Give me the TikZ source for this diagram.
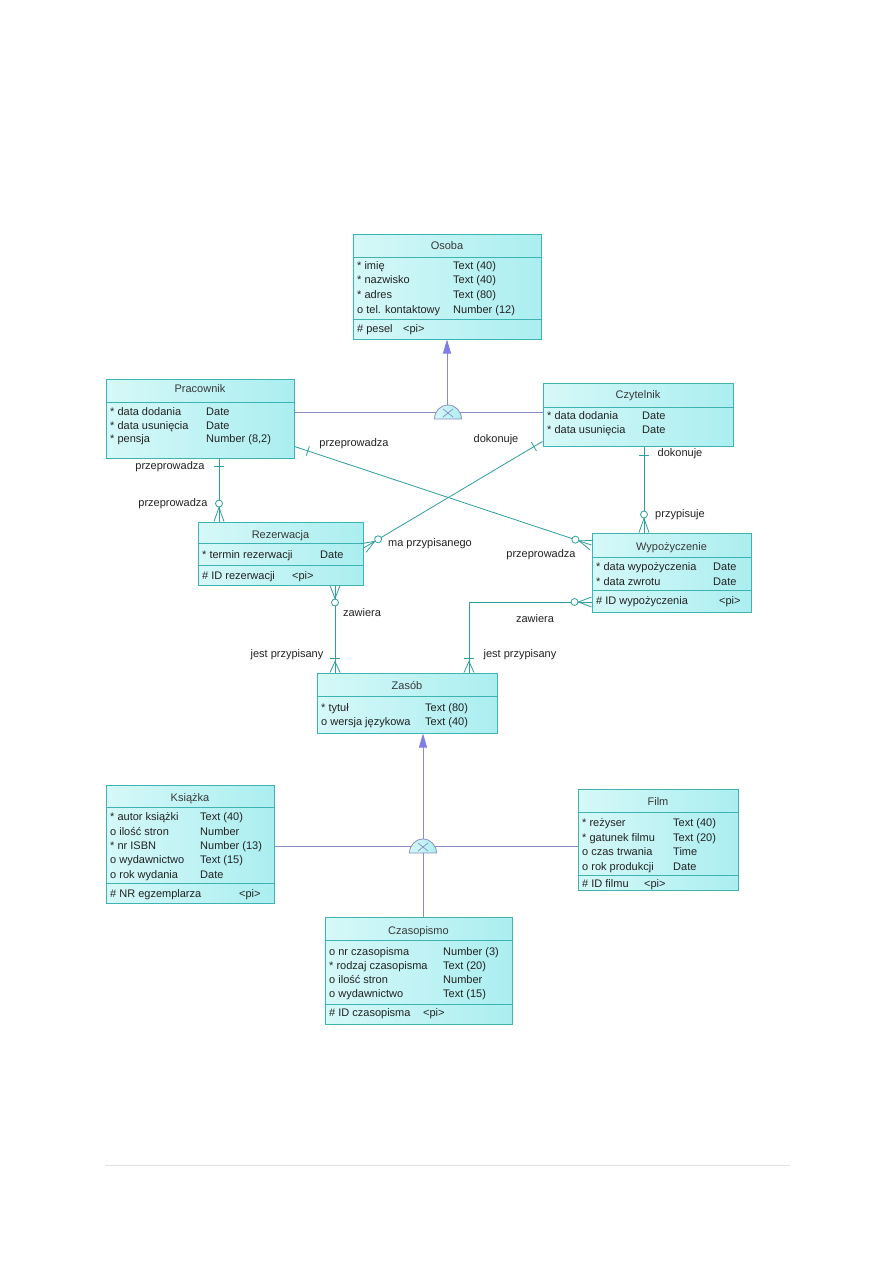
\documentclass[tikz,border=0pt]{standalone}
\usepackage{fontspec}
\setmainfont{Liberation Sans}
\usetikzlibrary{calc,arrows.meta}
\definecolor{bordc}{HTML}{3DB3B3}
\definecolor{fillL}{HTML}{D6F8F8}
\definecolor{fillR}{HTML}{ABEEF0}
\definecolor{relc}{HTML}{2E9E9E}
\definecolor{inhc}{HTML}{8C8CC4}
\definecolor{inhf}{HTML}{7E7EE6}
\definecolor{txtc}{HTML}{222222}
\newcommand\erfont{\fontsize{11}{13}\selectfont}
\newcounter{tn}
\newcommand\tx[3]{\stepcounter{tn}\node[attr] (t\arabic{tn}) at (#1,#2) {#3};}
\newcommand\ttl[3]{\stepcounter{tn}\node[ttlst] (t\arabic{tn}) at (#1,#2) {#3};}
\newcommand\ERbar[3]{\path ($(#1)!#3!(#2)$) coordinate (tmpq);
  \draw[rel] ($(tmpq)!5pt!90:(#2)$) -- ($(tmpq)!5pt!-90:(#2)$);}
\newcommand\ERcrow[3]{\path ($(#1)!#3!(#2)$) coordinate (tmpp);
  \draw[rel] ($(#1)!5pt!90:(#2)$) -- (tmpp) -- ($(#1)!5pt!-90:(#2)$);}
\newcommand\ERcirc[3]{\path ($(#1)!#3!(#2)$) coordinate (tmpc);
  \draw[rel, fill=white] (tmpc) circle[radius=3.5pt];}
\newcommand\ERhl[2]{\draw[bordc, line width=1pt] (#1.west |- 0,#2) -- (#1.east |- 0,#2);}
\begin{document}
\begin{tikzpicture}[x=1pt,y=-1pt,
  entity/.style={draw=bordc, line width=1pt, left color=fillL, right color=fillR, inner sep=0pt},
  attr/.style={anchor=base west, inner sep=0pt, font=\erfont, text=txtc},
  ttlst/.style={anchor=base, inner sep=0pt, font=\erfont, text=txtc!90},
  lab/.style={anchor=base, inner sep=0pt, font=\erfont, text=txtc},
  rel/.style={draw=relc, line width=0.8pt},
  inh/.style={draw=inhc, line width=0.9pt},
  inharrow/.style={inh, arrows={-{Triangle[width=8pt,length=14pt,color=inhf,fill=inhf]}}},
  dome/.style={draw=inhc, line width=0.8pt, left color=fillL, right color=fillR}]
\useasboundingbox (0,0) rectangle (893,1263);
\fill[white] (0,0) rectangle (893,1263);

% ---------- entities ----------
\node[entity, minimum width=188pt, minimum height=105pt] (osoba) at (447,286.5) {};
\ERhl{osoba}{257} \ERhl{osoba}{319}
\ttl{447}{249}{Osoba}
\tx{357}{269}{* imię}\tx{453}{269}{Text (40)}
\tx{357}{283}{* nazwisko}\tx{453}{283}{Text (40)}
\tx{357}{298}{* adres}\tx{453}{298}{Text (80)}
\tx{357}{313}{o tel. kontaktowy}\tx{453}{313}{Number (12)}
\tx{357}{332}{\# pesel}\tx{403}{332}{<pi>}

\node[entity, minimum width=188pt, minimum height=79pt] (prac) at (200,418.5) {};
\ERhl{prac}{402}
\ttl{200}{392}{Pracownik}
\tx{110}{415}{* data dodania}\tx{206}{415}{Date}
\tx{110}{429}{* data usunięcia}\tx{206}{429}{Date}
\tx{110}{442}{* pensja}\tx{206}{442}{Number (8,2)}

\node[entity, minimum width=190pt, minimum height=63pt] (czyt) at (638,414.5) {};
\ERhl{czyt}{407}
\ttl{638}{398}{Czytelnik}
\tx{547}{419}{* data dodania}\tx{642}{419}{Date}
\tx{547}{433}{* data usunięcia}\tx{642}{433}{Date}

\node[entity, minimum width=165pt, minimum height=63pt] (rez) at (280.5,553.5) {};
\ERhl{rez}{543} \ERhl{rez}{565}
\ttl{280.5}{538}{Rezerwacja}
\tx{202}{558}{* termin rezerwacji}\tx{320}{558}{Date}
\tx{202}{579}{\# ID rezerwacji}\tx{292}{579}{<pi>}

\node[entity, minimum width=159pt, minimum height=79pt] (wyp) at (671.5,572.5) {};
\ERhl{wyp}{557} \ERhl{wyp}{590}
\ttl{671.5}{550}{Wypożyczenie}
\tx{596}{570}{* data wypożyczenia}\tx{713}{570}{Date}
\tx{596}{585}{* data zwrotu}\tx{713}{585}{Date}
\tx{596}{604}{\# ID wypożyczenia}\tx{719}{604}{<pi>}

\node[entity, minimum width=180pt, minimum height=60pt] (zasob) at (407,703) {};
\ERhl{zasob}{696}
\ttl{407}{689}{Zasób}
\tx{321}{711}{* tytuł}\tx{425}{711}{Text (80)}
\tx{321}{725}{o wersja językowa}\tx{425}{725}{Text (40)}

\node[entity, minimum width=168pt, minimum height=118pt] (ksiazka) at (190,844) {};
\ERhl{ksiazka}{807} \ERhl{ksiazka}{883}
\ttl{190}{801}{Książka}
\tx{110}{820}{* autor książki}\tx{200}{820}{Text (40)}
\tx{110}{835}{o ilość stron}\tx{200}{835}{Number}
\tx{110}{849}{* nr ISBN}\tx{200}{849}{Number (13)}
\tx{110}{863}{o wydawnictwo}\tx{200}{863}{Text (15)}
\tx{110}{878}{o rok wydania}\tx{200}{878}{Date}
\tx{110}{897}{\# NR egzemplarza}\tx{239}{897}{<pi>}

\node[entity, minimum width=160pt, minimum height=101pt] (film) at (658,839.5) {};
\ERhl{film}{812} \ERhl{film}{875}
\ttl{658}{805}{Film}
\tx{582}{826}{* reżyser}\tx{673}{826}{Text (40)}
\tx{582}{841}{* gatunek filmu}\tx{673}{841}{Text (20)}
\tx{582}{855}{o czas trwania}\tx{673}{855}{Time}
\tx{582}{870}{o rok produkcji}\tx{673}{870}{Date}
\tx{582}{887}{\# ID filmu}\tx{644}{887}{<pi>}

\node[entity, minimum width=187pt, minimum height=107pt] (czas) at (418.5,970.5) {};
\ERhl{czas}{940} \ERhl{czas}{1004}
\ttl{418.5}{934}{Czasopismo}
\tx{329}{955}{o nr czasopisma}\tx{443}{955}{Number (3)}
\tx{329}{969}{* rodzaj czasopisma}\tx{443}{969}{Text (20)}
\tx{329}{983}{o ilość stron}\tx{443}{983}{Number}
\tx{329}{997}{o wydawnictwo}\tx{443}{997}{Text (15)}
\tx{329}{1016}{\# ID czasopisma}\tx{423}{1016}{<pi>}

% ---------- inheritance ----------
\coordinate (d1) at (447,412);
\draw[inh] (prac.east |- d1) -- (czyt.west |- d1);
\draw[inharrow] ([yshift=6pt]d1) -- (osoba.south -| d1);
\draw[dome] (434.5,419) arc[start angle=180, end angle=360, x radius=13.5, y radius=14] -- cycle;
\draw[inhc, line width=0.7pt] (443,409) -- (453,417) (443,417) -- (453,409);

\coordinate (d2) at (423,846);
\draw[inh] (ksiazka.east |- d2) -- (film.west |- d2);
\draw[inh] (czas.north -| d2) -- (d2);
\draw[inharrow] (d2) -- (zasob.south -| d2);
\draw[dome] (409.5,853) arc[start angle=180, end angle=360, x radius=13.5, y radius=14] -- cycle;
\draw[inhc, line width=0.7pt] (418,843) -- (428,851) (418,851) -- (428,843);

% ---------- relationships ----------
\coordinate (cA) at (219,0);
\coordinate (cD) at (644,0);
\coordinate (cE) at (335,0);
\coordinate (cF) at (469,602);

% Pracownik - Rezerwacja
\coordinate (A1) at (prac.south -| cA);
\coordinate (B1) at (rez.north -| cA);
\draw[rel] (A1) -- (B1);
\ERbar{A1}{B1}{8pt}
\ERcrow{B1}{A1}{14pt}
\ERcirc{B1}{A1}{18pt}
\node[lab] (l1) at (170,469) {przeprowadza};
\node[lab] (l2) at (173,506) {przeprowadza};

% Pracownik - Wypozyczenie
\coordinate (A2) at ([yshift=12pt]prac.south east);
\coordinate (B2) at ([yshift=27.5pt]wyp.west);
\draw[rel] (A2) -- (B2);
\ERbar{A2}{B2}{14pt}
\ERcrow{B2}{A2}{13pt}
\ERcirc{B2}{A2}{17pt}
\node[lab] (l3) at (354,446) {przeprowadza};
\node[lab] (l4) at (541,557) {przeprowadza};

% Czytelnik - Rezerwacja
\coordinate (A3) at ([yshift=5pt]czyt.south west);
\coordinate (B3) at ([yshift=5.5pt]rez.east);
\draw[rel] (A3) -- (B3);
\ERbar{A3}{B3}{10pt}
\ERcrow{B3}{A3}{13pt}
\ERcirc{B3}{A3}{17pt}
\node[lab] (l5) at (496,442) {dokonuje};
\node[lab] (l6) at (430,546) {ma przypisanego};

% Czytelnik - Wypozyczenie
\coordinate (A4) at (czyt.south -| cD);
\coordinate (B4) at (wyp.north -| cD);
\draw[rel] (A4) -- (B4);
\ERbar{A4}{B4}{9pt}
\ERcrow{B4}{A4}{14pt}
\ERcirc{B4}{A4}{18pt}
\node[lab] (l7) at (680,456) {dokonuje};
\node[lab] (l8) at (680,517) {przypisuje};

% Rezerwacja - Zasob
\coordinate (A5) at (rez.south -| cE);
\coordinate (B5) at (zasob.north -| cE);
\draw[rel] (A5) -- (B5);
\ERcrow{A5}{B5}{13pt}
\ERcirc{A5}{B5}{17pt}
\ERcrow{B5}{A5}{11pt}
\ERbar{B5}{A5}{14pt}
\node[lab] (l9) at (362,616) {zawiera};
\node[lab] (l10) at (287,657) {jest przypisany};

% Wypozyczenie - Zasob
\coordinate (A6) at (wyp.west |- cF);
\coordinate (B6) at (zasob.north -| cF);
\draw[rel] (A6) -- (cF) -- (B6);
\ERcrow{A6}{cF}{13pt}
\ERcirc{A6}{cF}{17pt}
\ERcrow{B6}{cF}{11pt}
\ERbar{B6}{cF}{14pt}
\node[lab] (l11) at (535,622) {zawiera};
\node[lab] (l12) at (520,657) {jest przypisany};

% page footer rule
\draw[black!12, line width=0.8pt] (105,1165) -- (790,1165);
\end{tikzpicture}
\end{document}
